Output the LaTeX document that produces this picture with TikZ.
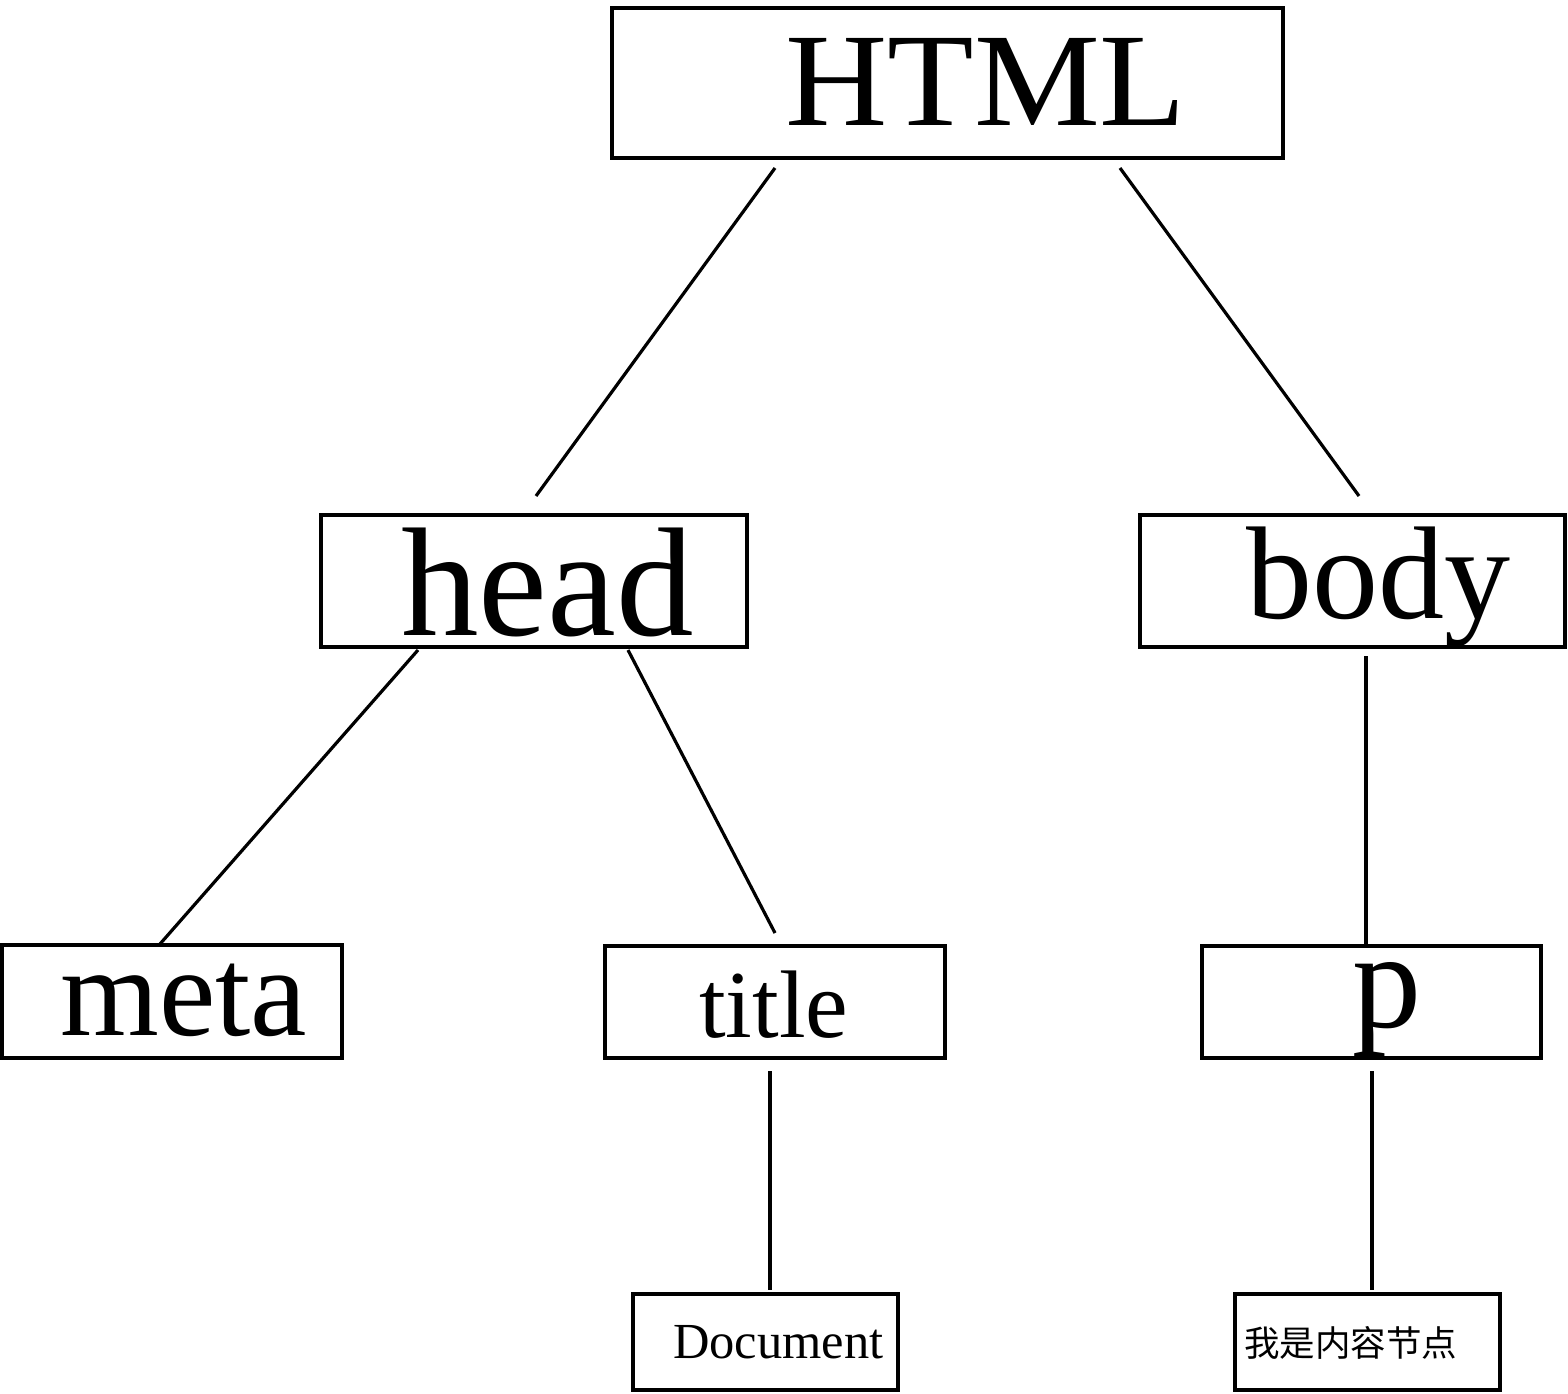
\documentclass[tikz,border=0pt]{standalone}
\usepackage{fontspec}
\setmainfont{Liberation Serif}
\newfontfamily\cjk{Noto Sans CJK SC}
\begin{document}
\begin{tikzpicture}[x=1pt,y=-1pt,
  box/.style={draw,line width=3.8pt,rectangle,inner sep=0pt,fill=none},
  lbl/.style={inner sep=0pt,anchor=base west},
  conn/.style={line width=3.2pt}]
\useasboundingbox (0,0) rectangle (1568,1393);
% boxes
\node[box,minimum width=671pt,minimum height=150pt] (html) at (947.5,83) {};
\node[box,minimum width=426pt,minimum height=132pt] (head) at (534,581) {};
\node[box,minimum width=425pt,minimum height=132pt] (body) at (1352.5,581) {};
\node[box,minimum width=340pt,minimum height=113pt] (meta) at (172,1001.5) {};
\node[box,minimum width=340pt,minimum height=112pt] (title) at (775,1002) {};
\node[box,minimum width=339pt,minimum height=112pt] (p) at (1371.5,1002) {};
\node[box,minimum width=265pt,minimum height=96pt] (doc) at (765.5,1342) {};
\node[box,minimum width=265pt,minimum height=96pt] (zh) at (1367.5,1342) {};
% labels
\node[lbl] (thtml) at (785,125) {\fontsize{133}{133}\selectfont\scalebox{1.065}[1]{HTML}};
\node[lbl] (thead) at (401,635) {\fontsize{155}{155}\selectfont head};
\node[lbl] (tbody) at (1246,618) {\fontsize{132}{132}\selectfont body};
\node[lbl] (tmeta) at (60,1035) {\fontsize{127}{127}\selectfont meta};
\node[lbl] (ttitle) at (699,1037) {\fontsize{96}{96}\selectfont title};
\node[lbl] (tp) at (1352,1027) {\fontsize{138}{138}\selectfont p};
\node[lbl] (tdoc) at (673,1358) {\fontsize{50.5}{50.5}\selectfont Document};
\node[inner sep=0pt,anchor=west] (tzh) at (1244,1343) {\fontsize{35.5}{35.5}\selectfont\cjk 我是内容节点};
% connector ends
\coordinate (a1) at (775,168); \coordinate (a2) at (536,496);
\coordinate (b1) at (1120,168); \coordinate (b2) at (1359,496);
\coordinate (c1) at (418,650); \coordinate (c2) at (160,944);
\coordinate (d1) at (628,650); \coordinate (d2) at (775,933);
\coordinate (e1) at (1366,656); \coordinate (e2) at (1366,944);
\coordinate (f1) at (770,1071); \coordinate (f2) at (770,1290);
\coordinate (g1) at (1372,1071); \coordinate (g2) at (1372,1290);
\draw[conn] (a1) -- (a2);
\draw[conn] (b1) -- (b2);
\draw[conn] (c1) -- (c2);
\draw[conn] (d1) -- (d2);
\draw[conn] (e1) -- (e2);
\draw[conn] (f1) -- (f2);
\draw[conn] (g1) -- (g2);
\end{tikzpicture}
\end{document}
